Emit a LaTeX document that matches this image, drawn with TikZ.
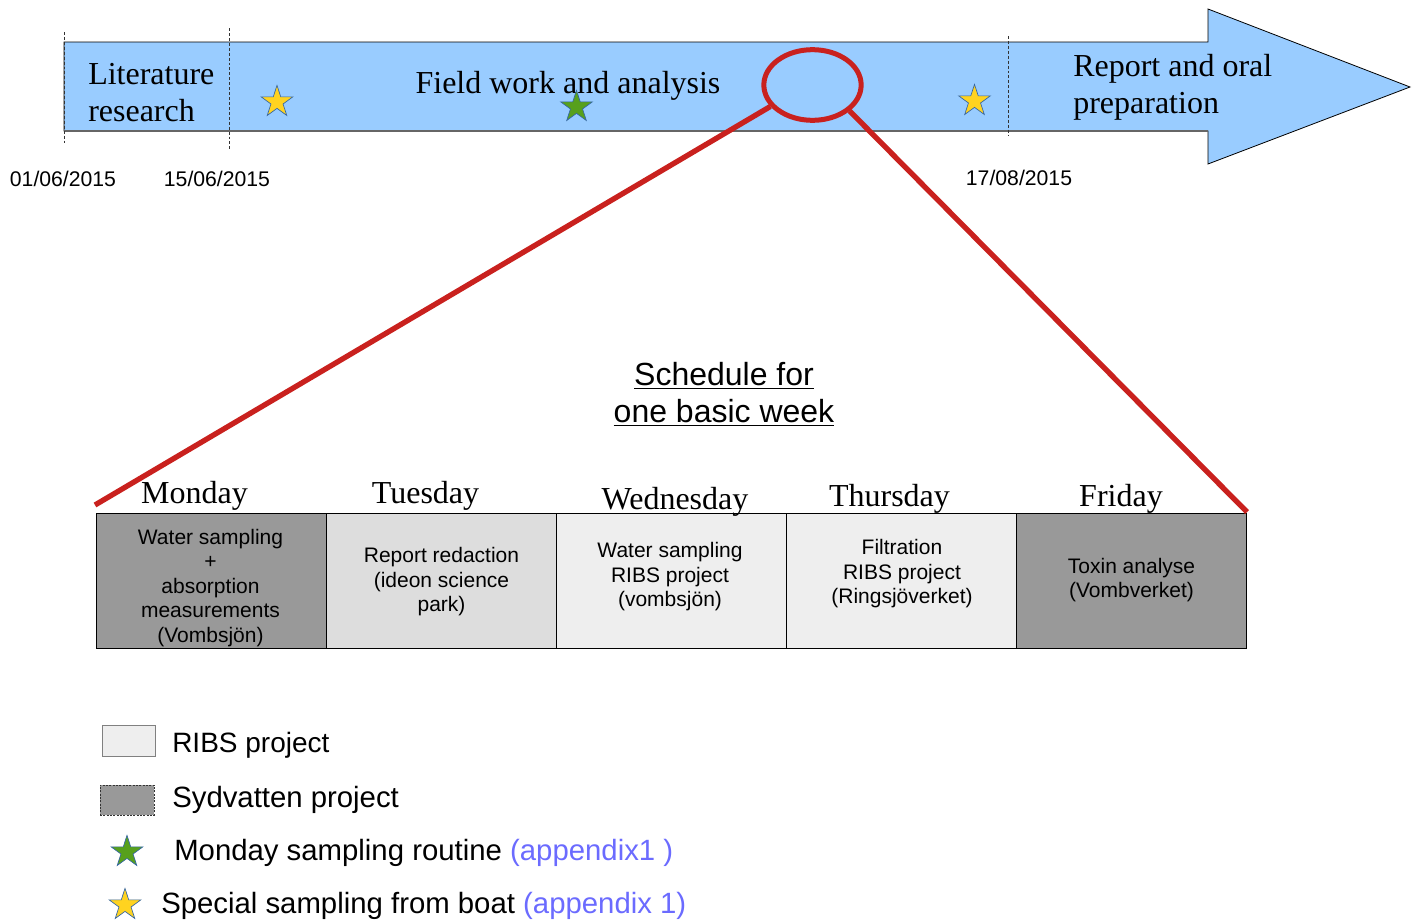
\documentclass[tikz,border=0pt]{standalone}
\usepackage{fontspec}
\setmainfont{Liberation Serif}
\setsansfont{Liberation Sans}
\usetikzlibrary{shapes.geometric}
\definecolor{arrowblue}{HTML}{99CCFF}
\definecolor{lensred}{HTML}{C9211E}
\definecolor{darkcell}{HTML}{999999}
\definecolor{midcell}{HTML}{DDDDDD}
\definecolor{lightcell}{HTML}{EEEEEE}
\definecolor{staryellow}{HTML}{FFD320}
\definecolor{stargreen}{HTML}{57A01C}
\definecolor{staredge}{HTML}{3465A4}
\definecolor{linkblue}{HTML}{6B6BFF}
\definecolor{dashgray}{HTML}{333333}
\begin{document}
\begin{tikzpicture}[x=0.75pt,y=-0.75pt,
  serifbig/.style={font=\fontsize{24}{27.75}\selectfont\rmfamily, inner sep=0pt},
  datetext/.style={font=\fontsize{15.9}{19}\selectfont\sffamily, inner sep=0pt, anchor=base},
  daylabel/.style={font=\fontsize{24}{27.75}\selectfont\rmfamily, inner sep=0pt, anchor=base},
  cellbox/.style={draw=black, line width=0.6pt, minimum width=172.5pt, minimum height=101.25pt, inner sep=0pt},
  celltext/.style={font=\fontsize{15.75}{18.4}\selectfont\sffamily, align=center, inner sep=0pt},
  legendtext/.style={font=\fontsize{21}{25}\selectfont\sffamily, inner sep=0pt, anchor=base west},
  legendwide/.style={legendtext, font=\fontsize{22}{26}\selectfont\sffamily},
  startick/.style={star, star points=5, star point ratio=2.618, minimum size=25pt, inner sep=0pt, draw=staredge, line width=0.5pt},
  datedash/.style={draw=dashgray, line width=0.6pt, dash pattern=on 2.2pt off 1.5pt},
  zoomline/.style={draw=lensred, line width=4pt},
]
\useasboundingbox (0,0) rectangle (1420,921);

% timeline arrow
\draw[fill=arrowblue, draw=black, line width=0.6pt]
  (64,42) -- (1208,42) -- (1208,9) -- (1410,87) -- (1208,164) -- (1208,131) -- (64,131) -- cycle;
\draw[draw=gray!80!black, line width=1pt] (64,131) -- (1208,131);

% date separators
\coordinate (d1t) at (64,32);   \coordinate (d1b) at (64,145);
\coordinate (d2t) at (229,28);  \coordinate (d2b) at (229,150);
\coordinate (d3t) at (1008,36); \coordinate (d3b) at (1008,136);
\draw[datedash] (d1t) -- (d1b);
\draw[datedash] (d2t) -- (d2b);
\draw[datedash] (d3t) -- (d3b);

% phase labels
\node[serifbig, align=left, anchor=west] (lit) at (88,93) {Literature\\research};
\node[serifbig] (field) at (568,86) {Field work and analysis};
\node[serifbig, align=left, anchor=west] (report) at (1073,87) {Report and oral\\preparation};

% stars on the timeline
\node[startick, fill=staryellow] (star1) at (277,102) {};
\node[startick, fill=stargreen] (star2) at (576.5,107) {};
\node[startick, fill=staryellow] (star3) at (974.5,101) {};

% dates
\node[datetext] (date1) at (63,186) {01/06/2015};
\node[datetext] (date2) at (217,186) {15/06/2015};
\node[datetext] (date3) at (1019,185) {17/08/2015};

% schedule title
\node[font=\fontsize{24}{27.75}\selectfont\sffamily, align=center, inner sep=0pt] (title) at (724,394)
  {\underline{Schedule for}\\\underline{one basic week}};

% week table
\node[cellbox, fill=darkcell]  (mon) at (211,581) {};
\node[cellbox, fill=midcell]   (tue) at (441,581) {};
\node[cellbox, fill=lightcell] (wed) at (671,581) {};
\node[cellbox, fill=lightcell] (thu) at (901,581) {};
\node[cellbox, fill=darkcell]  (fri) at (1131,581) {};

\node[celltext] (mont) at (210.5,588) {Water sampling\\+\\absorption\\measurements\\(Vombsjön)};
\node[celltext] (tuet) at (441.5,582) {Report redaction\\(ideon science\\park)};
\node[celltext] (wedt) at (670,577) {Water sampling\\RIBS project\\(vombsjön)};
\node[celltext] (thut) at (902,574) {Filtration\\RIBS project\\(Ringsjöverket)};
\node[celltext] (frit) at (1131.5,580) {Toxin analyse\\(Vombverket)};

% day labels
\node[daylabel] (monl) at (194.5,503) {Monday};
\node[daylabel] (tuel) at (425.5,503) {Tuesday};
\node[daylabel] (wedl) at (675,509) {Wednesday};
\node[daylabel] (thul) at (889.5,506) {Thursday};
\node[daylabel] (fril) at (1121,506) {Friday};

% zoom lens
\node[draw=lensred, line width=3.75pt, ellipse, minimum width=73pt, minimum height=53pt, inner sep=0pt] (lens) at (812.5,85) {};
\coordinate (zl) at (95,505);
\coordinate (zr) at (1247,512);
\draw[zoomline] (lens.207) -- (zl);
\draw[zoomline] (lens.-35) -- (zr);

% legend
\node[draw=gray, line width=0.6pt, fill=lightcell, minimum width=40pt, minimum height=23pt, inner sep=0pt] (leg1) at (129,741) {};
\node[draw=dashgray, line width=0.5pt, dash pattern=on 1.5pt off 1pt, fill=darkcell, minimum width=40.5pt, minimum height=22.5pt, inner sep=0pt] (leg2) at (127,800) {};
\node[startick, fill=stargreen] (leg3) at (127,852) {};
\node[startick, fill=staryellow] (leg4) at (125,905) {};
\node[legendtext] (leg1t) at (172,752) {RIBS project};
\node[legendwide] (leg2t) at (172,807) {Sydvatten project};
\node[legendwide] (leg3t) at (174,860) {Monday sampling routine \textcolor{linkblue}{(appendix1 )}};
\node[legendwide] (leg4t) at (161,913) {Special sampling from boat \textcolor{linkblue}{(appendix 1)}};
\end{tikzpicture}
\end{document}
